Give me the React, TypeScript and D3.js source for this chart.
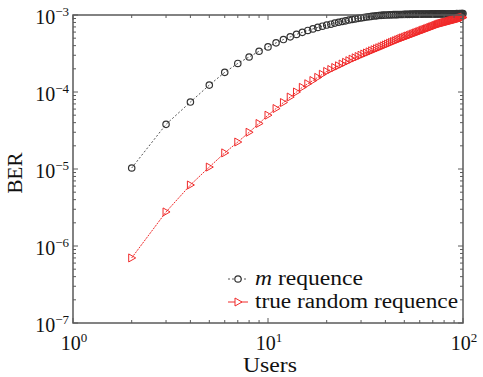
import React from "react";
import * as d3 from "d3";

// Users (x axis) 2..100
const users: number[] = d3.range(2, 101);

// BER of m sequence, in units of 1e-4, users 2..100
const berM_e4: number[] = [
  0.103, 0.38, 0.74, 1.23, 1.8, 2.35, 2.85, 3.38, 3.85, 4.35,
  4.8, 5.2, 5.6, 5.95, 6.3, 6.6, 6.9, 7.15, 7.4, 7.6,
  7.85, 8.05, 8.25, 8.4, 8.6, 8.75, 8.9, 9.05, 9.15, 9.3,
  9.4, 9.5, 9.6, 9.7, 9.75, 9.85, 9.9, 9.95, 10.0, 10.0,
  10.05, 10.05, 10.1, 10.1, 10.1, 10.15, 10.15, 10.15, 10.2, 10.2,
  10.2, 10.2, 10.25, 10.2, 10.25, 10.25, 10.25, 10.25, 10.3, 10.25,
  10.3, 10.3, 10.3, 10.3, 10.3, 10.3, 10.3, 10.35, 10.3, 10.3,
  10.35, 10.3, 10.35, 10.35, 10.35, 10.35, 10.35, 10.35, 10.35, 10.4,
  10.35, 10.4, 10.35, 10.4, 10.4, 10.4, 10.4, 10.4, 10.4, 10.4,
  10.4, 10.45, 10.4, 10.4, 10.45, 10.4, 10.45, 10.45, 10.45,
];

// BER of true random sequence, in units of 1e-4, users 2..100
const berR_e4: number[] = [
  0.007, 0.0277, 0.062, 0.106, 0.162, 0.224, 0.3, 0.39, 0.5, 0.61,
  0.73, 0.86, 1.0, 1.15, 1.28, 1.41, 1.55, 1.7, 1.85, 1.96,
  2.08, 2.19, 2.31, 2.43, 2.55, 2.67, 2.78, 2.89, 3.0, 3.11,
  3.21, 3.32, 3.43, 3.54, 3.65, 3.75, 3.86, 3.97, 4.08, 4.19,
  4.3, 4.41, 4.52, 4.63, 4.74, 4.85, 4.95, 5.05, 5.15, 5.25,
  5.34, 5.44, 5.54, 5.64, 5.74, 5.84, 5.94, 6.03, 6.13, 6.23,
  6.33, 6.43, 6.52, 6.62, 6.72, 6.82, 6.91, 7.01, 7.11, 7.21,
  7.3, 7.4, 7.5, 7.6, 7.69, 7.77, 7.84, 7.91, 7.98, 8.05,
  8.11, 8.18, 8.25, 8.32, 8.39, 8.45, 8.52, 8.59, 8.65, 8.72,
  8.78, 8.85, 8.92, 8.98, 9.05, 9.11, 9.18, 9.24, 9.3,
];

const xTickExps: number[] = [0, 1, 2];
const yTickExps: number[] = [-7, -6, -5, -4, -3];
const seriesNames: string[] = ["m", "true random requence"];

const W = 483;
const H = 377;
const L = 73, R = 463, T = 15, B = 323;
const FONT = "'Liberation Serif', 'Times New Roman', serif";
const AXIS = "#5a5a5a";
const RED = "#f02a2a";
const BLK = "#333";

export default function App() {
  const x = d3.scaleLog().domain([1, 100]).range([L, R]);
  const y = d3.scaleLog().domain([1e-7, 1e-3]).range([B, T]);

  const mPts = users.map((u, i) => [x(u), y(berM_e4[i] * 1e-4)] as [number, number]);
  const rPts = users.map((u, i) => [x(u), y(berR_e4[i] * 1e-4)] as [number, number]);
  const line = d3.line();

  const xMinor: number[] = [];
  [1, 10].forEach((d) => { for (let k = 2; k <= 9; k++) xMinor.push(d * k); });
  const yMinor: number[] = [];
  [1e-7, 1e-6, 1e-5, 1e-4].forEach((d) => { for (let k = 2; k <= 9; k++) yMinor.push(d * k); });

  const tri = (cx: number, cy: number) =>
    `M${cx - 3},${cy - 4}L${cx + 4},${cy}L${cx - 3},${cy + 4}Z`;

  const txt = { fontFamily: FONT, fill: "#111" } as any;

  return (
    <svg width={W} height={H} style={{ position: "absolute", left: 0, top: 0, background: "#fff" }}>
      {/* series lines */}
      <path d={line(mPts) || ""} fill="none" stroke="#555" strokeWidth={1} strokeDasharray="2,2" />
      <path d={line(rPts) || ""} fill="none" stroke={RED} strokeWidth={1} strokeDasharray="2,1" />
      {/* markers */}
      {mPts.map((p, i) => (
        <circle key={"m" + i} cx={p[0]} cy={p[1]} r={3.2} fill="none" stroke={BLK} strokeWidth={1.2} />
      ))}
      {rPts.map((p, i) => (
        <path key={"r" + i} d={tri(p[0], p[1])} fill="none" stroke={RED} strokeWidth={1} />
      ))}

      {/* frame */}
      <rect x={L} y={T} width={R - L} height={B - T} fill="none" stroke={AXIS} strokeWidth={1.5} />
      {/* x ticks */}
      {xTickExps.map((e) => {
        const px = x(Math.pow(10, e));
        return (
          <g key={"xt" + e}>
            <line x1={px} x2={px} y1={B} y2={B - 5} stroke={AXIS} />
            <line x1={px} x2={px} y1={T} y2={T + 5} stroke={AXIS} />
            <text x={px + 1} y={350} textAnchor="middle" fontSize={20} style={txt}>
              10<tspan fontSize={13} dy={-8}>{String(e)}</tspan>
            </text>
          </g>
        );
      })}
      {xMinor.map((v, i) => (
        <g key={"xm" + i}>
          <line x1={x(v)} x2={x(v)} y1={B} y2={B - 3} stroke={AXIS} />
          <line x1={x(v)} x2={x(v)} y1={T} y2={T + 3} stroke={AXIS} />
        </g>
      ))}
      {/* y ticks */}
      {yTickExps.map((e) => {
        const py = y(Math.pow(10, e));
        return (
          <g key={"yt" + e}>
            <line x1={L} x2={L + 5} y1={py} y2={py} stroke={AXIS} />
            <line x1={R} x2={R - 5} y1={py} y2={py} stroke={AXIS} />
            <text x={69} y={py + 9} textAnchor="end" fontSize={20} style={txt}>
              10<tspan fontSize={13} dy={-8}>{"\u2212" + Math.abs(e)}</tspan>
            </text>
          </g>
        );
      })}
      {yMinor.map((v, i) => (
        <g key={"ym" + i}>
          <line x1={L} x2={L + 3} y1={y(v)} y2={y(v)} stroke={AXIS} />
          <line x1={R} x2={R - 3} y1={y(v)} y2={y(v)} stroke={AXIS} />
        </g>
      ))}

      {/* axis titles */}
      <text x={243} y={372} fontSize={21} style={txt} textLength={54} lengthAdjust="spacingAndGlyphs">Users</text>
      <text transform={`translate(22,${(T + B) / 2 + 4}) rotate(-90)`} textAnchor="middle" fontSize={21} style={txt}>BER</text>

      {/* legend */}
      <g>
        <line x1={228} x2={248} y1={279} y2={279} stroke="#555" strokeDasharray="2,2" />
        <circle cx={238} cy={279} r={3.2} fill="#fff" stroke={BLK} strokeWidth={1.2} />
        <text x={255} y={285} fontSize={20} style={txt} textLength={108} lengthAdjust="spacingAndGlyphs">
          <tspan fontStyle="italic">{seriesNames[0]}</tspan> requence
        </text>
        <line x1={228} x2={248} y1={302} y2={302} stroke={RED} strokeWidth={1} />
        <path d={tri(238, 302)} fill="#fff" stroke={RED} />
        <text x={255} y={308} fontSize={20} style={txt} textLength={203} lengthAdjust="spacingAndGlyphs">{seriesNames[1]}</text>
      </g>
    </svg>
  );
}
